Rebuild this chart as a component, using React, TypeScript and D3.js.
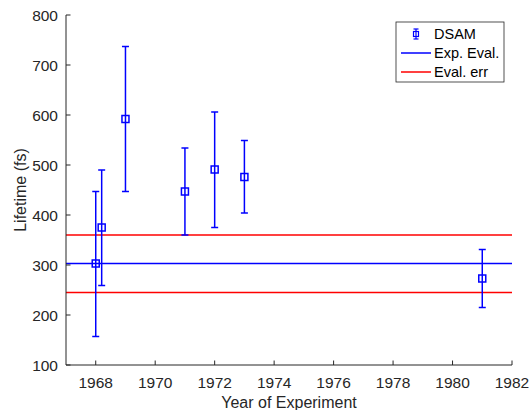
import React from "react";
import * as d3 from "d3";

const years = [1968, 1968.2, 1969, 1971, 1972, 1973, 1981];
const lifetimes = [303, 375, 592, 447, 491, 476, 273];
const upperBounds = [447, 490, 737, 534, 606, 549, 331];
const lowerBounds = [157, 259, 447, 360, 375, 404, 215];
const expEval = 303;
const evalErr = [360, 245];
const xTicks = [1968, 1970, 1972, 1974, 1976, 1978, 1980, 1982];
const yTicks = [100, 200, 300, 400, 500, 600, 700, 800];
const legendLabels = ["DSAM", "Exp. Eval.", "Eval. err"];

const W = 531, H = 410;
const M = { left: 66, right: 512, top: 15, bottom: 365 };
const axisColor = "#262626";
const font = "'Liberation Sans', Arial, sans-serif";

export default function App() {
  const x = d3.scaleLinear().domain([1967, 1982]).range([M.left, M.right]);
  const y = d3.scaleLinear().domain([100, 800]).range([M.bottom, M.top]);
  const blue = "#0000ff";
  const red = "#ff0000";
  const cap = 3.5;
  const sq = 3.5;
  const lw = 1.5;

  const lgX = 396, lgY = 22, lgW = 108, lgH = 60;
  const rowY = [34, 53, 72];

  return (
    <svg width={W} height={H} style={{ position: "absolute", left: 0, top: 0, background: "#fff" }} fontFamily={font}>
      <rect x={0} y={0} width={W} height={H} fill="#fff" />
      {/* horizontal reference lines */}
      {evalErr.map((v, i) => (
        <line key={"r" + i} x1={M.left} x2={M.right} y1={y(v)} y2={y(v)} stroke={red} strokeWidth={lw} />
      ))}
      <line x1={M.left} x2={M.right} y1={y(expEval)} y2={y(expEval)} stroke={blue} strokeWidth={lw} />
      {/* error bars */}
      {years.map((yr, i) => {
        const cx = x(yr);
        return (
          <g key={"e" + i} stroke={blue} strokeWidth={lw} fill="none">
            <line x1={cx} x2={cx} y1={y(upperBounds[i])} y2={y(lowerBounds[i])} />
            <line x1={cx - cap} x2={cx + cap} y1={y(upperBounds[i])} y2={y(upperBounds[i])} />
            <line x1={cx - cap} x2={cx + cap} y1={y(lowerBounds[i])} y2={y(lowerBounds[i])} />
            <rect x={cx - sq} y={y(lifetimes[i]) - sq} width={2 * sq} height={2 * sq} />
          </g>
        );
      })}
      {/* axes */}
      <line x1={M.left} x2={M.right} y1={M.bottom} y2={M.bottom} stroke={axisColor} strokeWidth={1} />
      <line x1={M.left} x2={M.left} y1={M.top} y2={M.bottom} stroke={axisColor} strokeWidth={1} />
      {xTicks.map((t) => (
        <g key={"xt" + t}>
          <line x1={x(t)} x2={x(t)} y1={M.bottom} y2={M.bottom - 4.5} stroke={axisColor} />
          <text x={x(t)} y={388} textAnchor="middle" fontSize={15.5} fill={axisColor}>{t}</text>
        </g>
      ))}
      {yTicks.map((t) => (
        <g key={"yt" + t}>
          <line x1={M.left} x2={M.left + 4.5} y1={y(t)} y2={y(t)} stroke={axisColor} />
          <text x={58} y={y(t) + 5.5} textAnchor="end" fontSize={15.5} fill={axisColor}>{t}</text>
        </g>
      ))}
      <text x={(M.left + M.right) / 2} y={407.5} textAnchor="middle" fontSize={16} fill={axisColor}>Year of Experiment</text>
      <text transform={`translate(26,${(M.top + M.bottom) / 2}) rotate(-90)`} textAnchor="middle" fontSize={16} fill={axisColor}>Lifetime (fs)</text>
      {/* legend */}
      <rect x={lgX} y={lgY} width={lgW} height={lgH} fill="#fff" stroke={axisColor} strokeWidth={0.8} />
      <g stroke={blue} strokeWidth={1.2} fill="none">
        <line x1={416} x2={416} y1={rowY[0] - 5} y2={rowY[0] + 5} />
        <line x1={413.5} x2={418.5} y1={rowY[0] - 5} y2={rowY[0] - 5} />
        <line x1={413.5} x2={418.5} y1={rowY[0] + 5} y2={rowY[0] + 5} />
        <rect x={413.5} y={rowY[0] - 2.5} width={5} height={5} />
      </g>
      <line x1={401} x2={431} y1={rowY[1]} y2={rowY[1]} stroke={blue} strokeWidth={lw} />
      <line x1={401} x2={431} y1={rowY[2]} y2={rowY[2]} stroke={red} strokeWidth={lw} />
      {legendLabels.map((l, i) => (
        <text key={l} x={434} y={rowY[i] + 5} fontSize={14.5} fill="#000">{l}</text>
      ))}
    </svg>
  );
}
